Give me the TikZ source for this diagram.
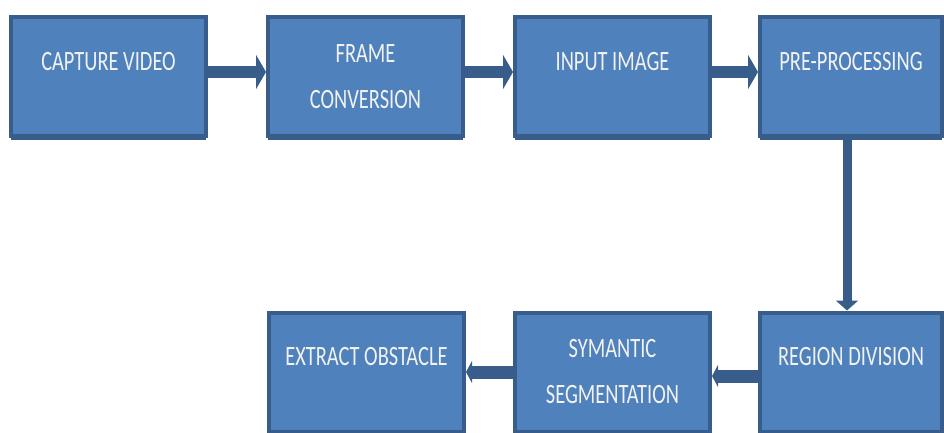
\documentclass[tikz,border=0pt]{standalone}
\usepackage{fontspec}
\setmainfont[FakeStretch=0.73]{Carlito}
\usetikzlibrary{arrows.meta,shadows}

\definecolor{boxfill}{HTML}{4F81BD}
\definecolor{boxedge}{HTML}{385D8A}

\begin{document}
\begin{tikzpicture}[
  x=1pt,
  y=-1pt,
  stage/.style={draw=boxedge, fill=boxfill, line width=4pt,
    minimum width=195pt, minimum height=119pt, inner sep=0pt,
    text=white!95!black, align=center,
    font=\fontsize{28}{46}\selectfont,
    general shadow={fill=boxedge, shadow yshift=-4pt}},
  oneline/.style={text height=18pt, text depth=31pt},
  narrow/.style={minimum width=182pt},
  flow/.style={draw=boxedge, line width=12pt,
    -{Triangle[length=10pt,width=34pt]}},
  back/.style={draw=boxedge, line width=13pt,
    -{Triangle[length=6pt,width=22pt]}},
  drop/.style={draw=boxedge, line width=9pt,
    -{Triangle[length=10pt,width=22pt]}}
]
  \useasboundingbox (0,0) rectangle (944,432);

  % Top row: from the camera to the cleaned image.
  \node[stage,oneline] (capture) at (108.5,76.5) {CAPTURE VIDEO};
  \node[stage] (frame) at (365.5,76.5) {FRAME\\CONVERSION};
  \node[stage,oneline] (input) at (612.5,76.5) {INPUT IMAGE};
  \node[stage,oneline,narrow] (prep) at (851,76.5) {PRE-PROCESSING};

  % Bottom row, read from right to left.
  \node[stage,oneline,narrow] (region) at (851,372) {REGION DIVISION};
  \node[stage] (segment) at (612.5,372) {SYMANTIC\\SEGMENTATION};
  \node[stage,oneline] (extract) at (366.5,372) {EXTRACT OBSTACLE};

  \draw[flow] ([yshift=4.5pt]capture.east) -- ([yshift=4.5pt]frame.west);
  \draw[flow] ([yshift=4.5pt]frame.east) -- ([yshift=4.5pt]input.west);
  \draw[flow] ([yshift=4.5pt]input.east) -- ([yshift=4.5pt]prep.west);
  \draw[drop] ([xshift=-4pt]prep.south) -- ([xshift=-4pt]region.north);
  \draw[back] ([yshift=-4pt]region.west) -- ([yshift=-4pt]segment.east);
  \draw[back] (segment.west) -- (extract.east);
\end{tikzpicture}
\end{document}
